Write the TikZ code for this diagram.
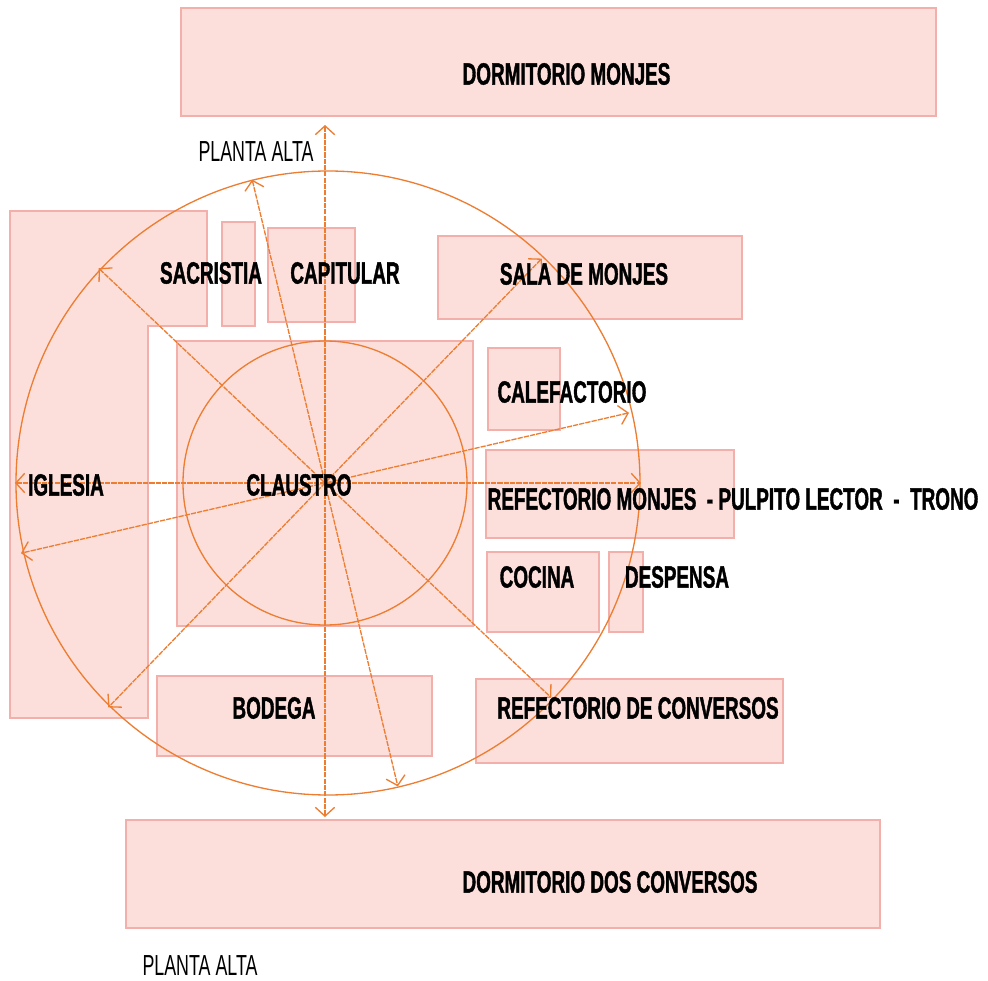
\documentclass[tikz,border=0pt]{standalone}
\usepackage{fontspec}
\newfontfamily\roomfont[FakeStretch=0.615, BoldFeatures={FakeBold=1.2}]{Liberation Sans}
\usetikzlibrary{arrows.meta}
\definecolor{roomfill}{RGB}{252,223,219}
\definecolor{roomline}{RGB}{243,175,170}
\definecolor{raycol}{RGB}{237,125,49}

\begin{document}
\begin{tikzpicture}[
		room/.style={fill=roomfill, draw=roomline, line width=0.6pt},
		ray/.style={raycol, line width=0.75pt, dash pattern=on 3pt off 0.6pt,
			{Straight Barb[length=5pt,width=11pt]}-{Straight Barb[length=5pt,width=11pt]}},
		lbl/.style={inner sep=0pt, font=\roomfont\bfseries\fontsize{17.5}{17.5}\selectfont},
		planta/.style={inner sep=0pt, font=\roomfont\fontsize{16.5}{16.5}\selectfont}]
		\useasboundingbox (-6.5,-9.96) rectangle (13.26,9.66);
		
		% rooms
		\draw[room] (-2.88,7.34) rectangle (12.22,9.5);
		\draw[room] (-6.3,5.44) -- (-2.36,5.44) -- (-2.36,3.14) -- (-3.54,3.14) -- (-3.54,-4.7) -- (-6.3,-4.7) -- cycle;
		\draw[room] (-2.06,3.14) rectangle (-1.4,5.22);
		\draw[room] (-1.14,3.22) rectangle (0.6,5.1);
		\draw[room] (2.26,3.28) rectangle (8.34,4.94);
		\draw[room] (-2.96,-2.86) rectangle (2.96,2.84);
		\draw[room] (3.26,1.06) rectangle (4.7,2.7);
		\draw[room] (3.22,-1.1) rectangle (8.18,0.66);
		\draw[room] (3.24,-2.98) rectangle (5.48,-1.38);
		\draw[room] (5.68,-2.98) rectangle (6.36,-1.38);
		\draw[room] (-3.36,-5.46) rectangle (2.14,-3.86);
		\draw[room] (3.02,-5.6) rectangle (9.16,-3.92);
		\draw[room] (-3.98,-8.9) rectangle (11.1,-6.74);
		
		% circles and axes
		\draw[raycol, line width=0.75pt] (0.06,0) circle (6.24);
		\draw[raycol, line width=0.75pt] (0,0) circle (2.84);
		\draw[ray] (0,-6.68) -- (0,7.16);
		\draw[ray] (180:6.2) -- (0:6.32);
		\foreach \a in {13,46,103.5,136.5}
			\draw[ray] (\a:6.24) -- (\a+180:6.24);
		
		% labels
		\node[lbl] (dormmonjes) at (4.83,8.18) {DORMITORIO MONJES};
		\node[planta] (altaup) at (-1.38,6.62) {PLANTA ALTA};
		\node[lbl] (sacristia) at (-2.28,4.2) {SACRISTIA};
		\node[lbl] (capitular) at (0.4,4.2) {CAPITULAR};
		\node[lbl] (salamonjes) at (5.18,4.18) {SALA DE MONJES};
		\node[lbl] (calefactorio) at (4.94,1.82) {CALEFACTORIO};
		\node[lbl] (iglesia) at (-5.18,-0.04) {IGLESIA};
		\node[lbl] (claustro) at (-0.52,-0.04) {CLAUSTRO};
		\node[lbl] (refmonjes) at (8.16,-0.32) {REFECTORIO MONJES \ - PULPITO LECTOR \ - \ TRONO};
		\node[lbl] (cocina) at (4.24,-1.88) {COCINA};
		\node[lbl] (despensa) at (7.04,-1.88) {DESPENSA};
		\node[lbl] (bodega) at (-1.02,-4.5) {BODEGA};
		\node[lbl] (refconversos) at (6.26,-4.5) {REFECTORIO DE CONVERSOS};
		\node[lbl] (dormconversos) at (5.7,-7.98) {DORMITORIO DOS CONVERSOS};
		\node[planta] (altadown) at (-2.5,-9.66) {PLANTA ALTA};
\end{tikzpicture}
\end{document}
